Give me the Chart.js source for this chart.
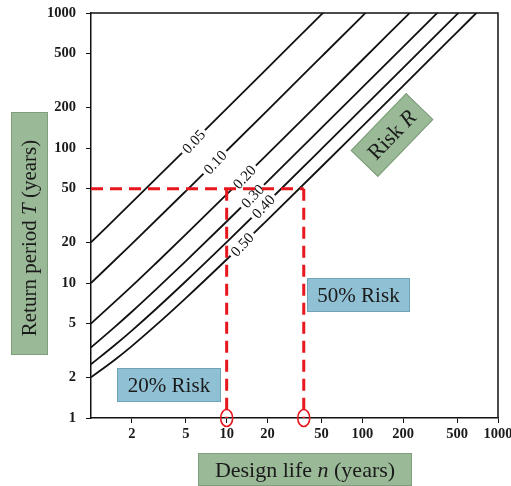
<!DOCTYPE html>
<html>
<head>
    <title>Return period vs design life</title>
    <script src="https://cdn.jsdelivr.net/npm/chart.js"></script>
    <style>
        body { margin: 0; background: white; }
        #wrap { width: 511px; height: 486px; }
    </style>
</head>
<body>
    <div id="wrap"><canvas id="riskChart" width="511" height="486"></canvas></div>
    <script>
        // tick labels
        const xTicks = [2, 5, 10, 20, 50, 100, 200, 500, 1000];
        const yTicks = [1, 2, 5, 10, 20, 50, 100, 200, 500, 1000];

        // risk curves: design life n (years) and return period T (years)
        const riskLabels = ['0.05', '0.10', '0.20', '0.30', '0.40', '0.50'];
        const n05 = [1, 2, 5, 10, 20, 50, 52];
        const t05 = [20, 39.5, 98, 195.5, 390.4, 975.3, 1014];
        const n10 = [1, 2, 5, 10, 20, 50, 100, 106];
        const t10 = [10, 19.49, 47.96, 95.41, 190.3, 475.1, 949.6, 1006.6];
        const n20 = [1, 2, 3, 5, 10, 20, 50, 100, 200, 225];
        const t20 = [5, 9.47, 13.95, 22.91, 45.32, 90.13, 224.6, 448.6, 896.8, 1008.8];
        const n30 = [1, 1.5, 2, 3, 5, 10, 20, 50, 100, 200, 360];
        const t30 = [3.33, 4.73, 6.12, 8.92, 14.52, 28.54, 56.57, 140.7, 280.9, 561.2, 1009.8];
        const n40 = [1, 1.5, 2, 3, 5, 10, 20, 50, 100, 200, 500, 515];
        const t40 = [2.5, 3.47, 4.44, 6.39, 10.3, 20.08, 39.65, 98.38, 196.3, 392, 979.3, 1008.7];
        const n50 = [1, 1.5, 2, 3, 5, 10, 20, 50, 100, 200, 500, 700];
        const t50 = [2, 2.7, 3.41, 4.85, 7.73, 14.93, 29.36, 72.63, 144.8, 289, 721.8, 1010.4];

        // where the curve labels sit (on each curve)
        const labelN = [5.7, 8.2, 13.5, 15.5, 18.6, 13.0];
        const labelT = [111.6, 78.3, 61.0, 44.0, 36.9, 19.3];

        // red guide lines: T = 50 years, n = 10 (20% risk) and n = 37 (50% risk)
        const guideT = 50;
        const guideN = [10, 37];

        const curveN = [n05, n10, n20, n30, n40, n50];
        const curveT = [t05, t10, t20, t30, t40, t50];

        const serif = '"Liberation Serif", "DejaVu Serif", serif';
        const red = '#e8161d';

        function pts(ns, ts) {
            return ns.map((n, i) => ({ x: n, y: ts[i] }));
        }

        const redDash = {
            showLine: true, borderColor: red, borderWidth: 3, borderDash: [12, 7],
            pointRadius: 0, fill: false, clip: 0
        };

        let datasets = [
            Object.assign({ label: 'T50', data: [{ x: 1, y: guideT }, { x: guideN[1], y: guideT }] }, redDash),
            Object.assign({ label: 'n20', data: [{ x: guideN[0], y: guideT }, { x: guideN[0], y: 1 }] }, redDash),
            Object.assign({ label: 'n50', data: [{ x: guideN[1], y: guideT }, { x: guideN[1], y: 1 }] }, redDash)
        ];
        riskLabels.forEach((r, i) => {
            datasets.push({
                label: r,
                data: pts(curveN[i], curveT[i]),
                showLine: true,
                borderColor: '#111',
                borderWidth: 1.8,
                pointRadius: 0,
                cubicInterpolationMode: 'monotone',
                fill: false,
                clip: 0
            });
        });

        function drawParts(ctx, parts, size, cx, cy) {
            // parts: [text, italic]
            let widths = parts.map(p => {
                ctx.font = (p[1] ? 'italic ' : '') + size + 'px ' + serif;
                return ctx.measureText(p[0]).width;
            });
            let total = widths.reduce((a, b) => a + b, 0);
            let x = cx - total / 2;
            ctx.textAlign = 'left';
            ctx.textBaseline = 'middle';
            parts.forEach((p, i) => {
                ctx.font = (p[1] ? 'italic ' : '') + size + 'px ' + serif;
                ctx.fillText(p[0], x, cy);
                x += widths[i];
            });
        }

        function box(ctx, x, y, w, h, fill, stroke) {
            ctx.fillStyle = fill;
            ctx.fillRect(x, y, w, h);
            ctx.strokeStyle = stroke;
            ctx.lineWidth = 1;
            ctx.strokeRect(x + 0.5, y + 0.5, w - 1, h - 1);
        }

        const decorations = {
            id: 'decorations',
            afterDatasetDraw(chart, args) {
                // curve labels, drawn once all risk curves are on the canvas
                if (args.index !== 3) return;
                const ctx = chart.ctx;
                const xs = chart.scales.x, ys = chart.scales.y;
                ctx.save();
                ctx.font = '15px ' + serif;
                riskLabels.forEach((r, i) => {
                    let px = xs.getPixelForValue(labelN[i]);
                    let py = ys.getPixelForValue(labelT[i]);
                    ctx.save();
                    ctx.translate(px, py);
                    ctx.rotate(-47 * Math.PI / 180);
                    let w = ctx.measureText(r).width;
                    ctx.fillStyle = 'white';
                    ctx.fillRect(-w / 2 - 3, -6, w + 6, 12);
                    ctx.fillStyle = '#111';
                    ctx.textAlign = 'center';
                    ctx.textBaseline = 'middle';
                    ctx.fillText(r, 0, 1);
                    ctx.restore();
                });
                ctx.restore();
            },
            afterDraw(chart) {
                const ctx = chart.ctx;
                const a = chart.chartArea;
                const xs = chart.scales.x, ys = chart.scales.y;
                ctx.save();
                // frame top and right
                ctx.strokeStyle = '#111';
                ctx.lineWidth = 1.5;
                ctx.beginPath();
                ctx.moveTo(a.left, a.top);
                ctx.lineTo(a.right, a.top);
                ctx.lineTo(a.right, a.bottom);
                ctx.stroke();

                // red ellipses on the n axis
                ctx.strokeStyle = red;
                ctx.lineWidth = 1.6;
                guideN.forEach(n => {
                    ctx.beginPath();
                    ctx.ellipse(xs.getPixelForValue(n), ys.getPixelForValue(1), 6, 8.5, 0, 0, Math.PI * 2);
                    ctx.stroke();
                });

                // risk boxes
                box(ctx, 117, 368, 104, 34, '#8fc0d3', '#6ea4ba');
                ctx.fillStyle = '#1a1a1a';
                drawParts(ctx, [['20% Risk', false]], 21, 169, 386);
                box(ctx, 307, 278, 103, 34, '#8fc0d3', '#6ea4ba');
                ctx.fillStyle = '#1a1a1a';
                drawParts(ctx, [['50% Risk', false]], 21, 358.5, 296);

                // Risk R tag
                ctx.save();
                ctx.translate(392, 135);
                ctx.rotate(-46 * Math.PI / 180);
                box(ctx, -40, -19, 80, 38, '#9ab997', '#7f9e7c');
                ctx.fillStyle = '#1a1a1a';
                drawParts(ctx, [['Risk ', false], ['R', true]], 22, 0, 1);
                ctx.restore();

                // axis titles
                box(ctx, 11, 112, 37, 243, '#9ab997', '#7f9e7c');
                ctx.save();
                ctx.translate(29.5, 238);
                ctx.rotate(-Math.PI / 2);
                ctx.fillStyle = '#1a1a1a';
                drawParts(ctx, [['Return period ', false], ['T', true], [' (years)', false]], 21, 0, 1);
                ctx.restore();

                box(ctx, 198, 453, 214, 33, '#9ab997', '#7f9e7c');
                ctx.fillStyle = '#1a1a1a';
                drawParts(ctx, [['Design life ', false], ['n', true], [' (years)', false]], 22, 305, 471);
                ctx.restore();
            }
        };

        const tickFont = { family: serif, size: 14.5, weight: 'bold' };

        function noPad(s) {
            s.paddingTop = 0;
            s.paddingBottom = 0;
            s.paddingLeft = 0;
            s.paddingRight = 0;
        }

        new Chart(document.getElementById('riskChart').getContext('2d'), {
            type: 'scatter',
            data: { datasets: datasets },
            options: {
                responsive: false,
                animation: false,
                layout: { padding: { top: 13, right: 13, left: 0, bottom: 0 } },
                plugins: { legend: { display: false }, tooltip: { enabled: false } },
                scales: {
                    x: {
                        type: 'logarithmic',
                        min: 1,
                        max: 1000,
                        afterFit: s => { s.height = 68; noPad(s); },
                        afterBuildTicks: s => { s.ticks = xTicks.map(v => ({ value: v })); },
                        border: { color: '#111', width: 1.5 },
                        grid: { drawOnChartArea: false, drawTicks: true, tickLength: 5, color: '#111' },
                        ticks: {
                            color: '#1a1a1a', font: tickFont, padding: 3,
                            maxRotation: 0, autoSkip: false,
                            callback: v => String(v)
                        }
                    },
                    y: {
                        type: 'logarithmic',
                        min: 1,
                        max: 1000,
                        afterFit: s => { s.width = 91; noPad(s); },
                        afterBuildTicks: s => { s.ticks = yTicks.map(v => ({ value: v })); },
                        border: { color: '#111', width: 1.5 },
                        grid: { drawOnChartArea: false, drawTicks: true, tickLength: 5, color: '#111' },
                        ticks: {
                            color: '#1a1a1a', font: tickFont, padding: 10,
                            autoSkip: false,
                            callback: v => String(v)
                        }
                    }
                }
            },
            plugins: [decorations]
        });
    </script>
</body>
</html>
